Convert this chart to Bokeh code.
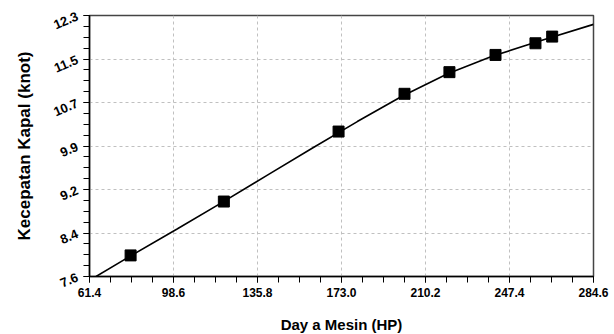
import numpy as np
from bokeh.plotting import figure
from bokeh.models import Range1d, FixedTicker
from bokeh.embed import file_html
from bokeh.resources import INLINE

# data
power_hp = [79.6, 120.9, 171.7, 200.9, 220.8, 241.2, 258.9, 266.3]
speed_knot = [7.98, 8.95, 10.21, 10.89, 11.28, 11.59, 11.80, 11.92]

curve_x = [64.3, 80, 100, 120, 140, 160, 180, 200, 220, 240, 260, 284.6]
curve_y = [7.60, 7.98, 8.45, 8.93, 9.42, 9.91, 10.39, 10.85, 11.25, 11.57, 11.83, 12.14]

x_tick_labels = ["61.4", "98.6", "135.8", "173.0", "210.2", "247.4", "284.6"]
y_tick_labels = ["7.6", "8.4", "9.2", "9.9", "10.7", "11.5", "12.3"]

x_min, x_max = 61.4, 284.6
y_min, y_max = 7.6, 12.3

x_ticks = list(np.linspace(x_min, x_max, len(x_tick_labels)))
y_ticks = list(np.linspace(y_min, y_max, len(y_tick_labels)))
x_minor = list(np.linspace(x_min, x_max, 4 * (len(x_tick_labels) - 1) + 1))
y_minor = list(np.linspace(y_min, y_max, 4 * (len(y_tick_labels) - 1) + 1))

p = figure(width=614, height=334, output_backend="svg", toolbar_location=None,
           x_range=Range1d(x_min, x_max), y_range=Range1d(y_min, y_max),
           frame_width=504, frame_height=261,
           min_border_left=89, min_border_right=21, min_border_top=15, min_border_bottom=58)

p.outline_line_color = "#444444"
p.outline_line_width = 1.5
p.background_fill_color = "white"
p.border_fill_color = "white"

p.line(curve_x, curve_y, line_color="black", line_width=1.6)
p.scatter(power_hp, speed_knot, marker="square", size=11, fill_color="black", line_color="black")

p.xaxis.ticker = FixedTicker(ticks=x_ticks, minor_ticks=x_minor)
p.yaxis.ticker = FixedTicker(ticks=y_ticks, minor_ticks=y_minor)
p.xaxis.major_label_overrides = {float(t): l for t, l in zip(x_ticks, x_tick_labels)}
p.yaxis.major_label_overrides = {float(t): l for t, l in zip(y_ticks, y_tick_labels)}

for ax in (p.xaxis, p.yaxis):
    ax.axis_line_color = "black"
    ax.axis_line_width = 1.5
    ax.major_tick_in = 0
    ax.major_tick_out = 6
    ax.minor_tick_in = 0
    ax.minor_tick_out = 6
    ax.major_tick_line_color = "black"
    ax.minor_tick_line_color = "black"
    ax.major_label_text_font = "Liberation Sans"
    ax.major_label_text_font_style = "bold"
    ax.major_label_text_font_size = "12px"
    ax.major_label_text_color = "black"
    ax.axis_label_text_font = "Liberation Sans"
    ax.axis_label_text_font_style = "bold"
    ax.axis_label_text_color = "black"

p.xaxis.axis_label = "Day a Mesin (HP)"
p.xaxis.axis_label_text_font_size = "15px"
p.xaxis.axis_label_standoff = 16
p.xaxis.major_label_standoff = 5

p.yaxis.axis_label = "Kecepatan Kapal (knot)"
p.yaxis.axis_label_text_font_size = "17px"
p.yaxis.axis_label_standoff = 14
p.yaxis.major_label_standoff = 6
p.yaxis.major_label_text_font_size = "13px"
p.yaxis.major_label_orientation = 0.4

p.xgrid.ticker = FixedTicker(ticks=x_ticks)
p.ygrid.ticker = FixedTicker(ticks=y_ticks)
p.grid.grid_line_color = "#c0c0c0"
p.grid.grid_line_dash = "3 3"
p.grid.grid_line_width = 1

open("out.html", "w").write(file_html(p, INLINE))
